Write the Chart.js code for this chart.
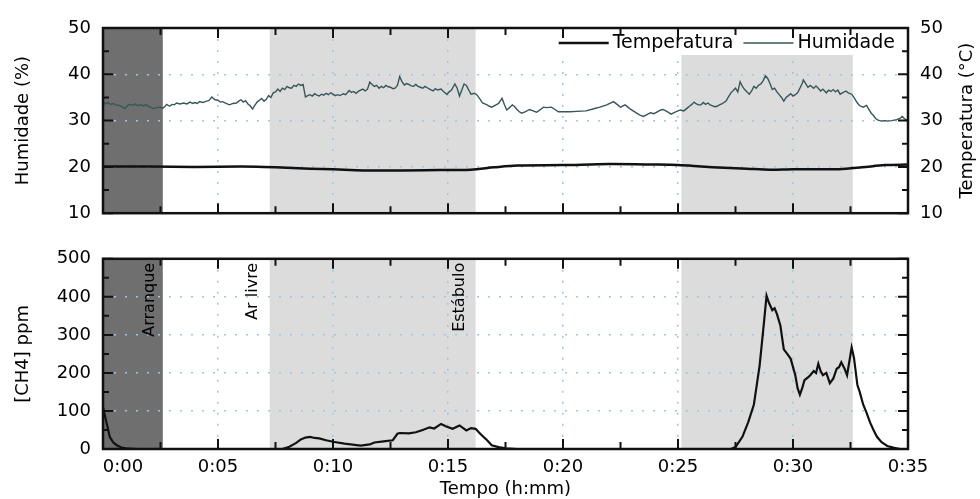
<!DOCTYPE html>
<html>
<head>
<meta charset="utf-8">
<script src="https://cdn.jsdelivr.net/npm/chart.js@4"></script>
<style>
  body { margin: 0; background: #fff; }
  canvas { position: absolute; left: 0; }
  #topChart { top: 0; }
  #ch4Chart { top: 236px; }
</style>
</head>
<body>
<canvas id="topChart" width="980" height="236"></canvas>
<canvas id="ch4Chart" width="980" height="263"></canvas>
<script>
// tempos em minutos desde o arranque
const humTime = [0, 0.1, 0.2, 0.35, 0.43, 0.55, 0.7, 0.85, 0.96, 1.05,
  1.15, 1.3, 1.4, 1.5, 1.62, 1.75, 1.9, 2.0, 2.1, 2.2,
  2.35, 2.48, 2.6, 2.7, 2.77, 2.9, 3.0, 3.1, 3.2, 3.35,
  3.5, 3.65, 3.78, 3.9, 4.0, 4.1, 4.2, 4.35, 4.5, 4.6,
  4.73, 4.87, 5.0, 5.1, 5.2, 5.35, 5.5, 5.65, 5.8, 5.9,
  6.0, 6.1, 6.2, 6.3, 6.4, 6.5, 6.6, 6.7, 6.8, 6.9,
  7.0, 7.1, 7.2, 7.3, 7.4, 7.5, 7.6, 7.7, 7.8, 7.9,
  8.0, 8.1, 8.2, 8.3, 8.4, 8.5, 8.6, 8.7, 8.8, 8.9,
  9.0, 9.1, 9.2, 9.3, 9.4, 9.5, 9.6, 9.7, 9.8, 9.9,
  10.0, 10.1, 10.2, 10.3, 10.45, 10.55, 10.7, 10.8, 10.9, 11.0,
  11.1, 11.2, 11.3, 11.4, 11.5, 11.6, 11.7, 11.8, 11.9, 12.0,
  12.1, 12.2, 12.3, 12.4, 12.5, 12.6, 12.7, 12.8, 12.9, 13.0,
  13.1, 13.2, 13.3, 13.4, 13.5, 13.6, 13.7, 13.8, 13.9, 14.0,
  14.1, 14.2, 14.35, 14.45, 14.55, 14.7, 14.8, 14.95, 15.05, 15.15,
  15.3, 15.4, 15.5, 15.6, 15.7, 15.8, 15.9, 16.0, 16.15, 16.25,
  16.4, 16.5, 16.6, 16.7, 16.8, 16.9, 17.05, 17.2, 17.35, 17.45,
  17.55, 17.65, 17.8, 17.9, 18.0, 18.1, 18.2, 18.35, 18.55, 18.7,
  18.85, 19.0, 19.15, 19.3, 19.5, 19.65, 19.8, 20.0, 20.3, 20.6,
  21.0, 21.3, 21.6, 21.9, 22.2, 22.35, 22.5, 22.7, 22.9, 23.05,
  23.2, 23.35, 23.5, 23.65, 23.8, 23.95, 24.1, 24.25, 24.35, 24.55,
  24.7, 24.85, 25.0, 25.1, 25.25, 25.4, 25.5, 25.6, 25.7, 25.8,
  25.9, 26.0, 26.1, 26.2, 26.3, 26.4, 26.5, 26.6, 26.7, 26.8,
  26.9, 27.0, 27.1, 27.2, 27.3, 27.4, 27.5, 27.6, 27.7, 27.8,
  27.9, 28.0, 28.1, 28.2, 28.3, 28.4, 28.5, 28.6, 28.7, 28.8,
  28.9, 29.0, 29.1, 29.2, 29.3, 29.4, 29.5, 29.6, 29.7, 29.8,
  29.9, 30.0, 30.1, 30.2, 30.3, 30.4, 30.45, 30.55, 30.65, 30.75,
  30.9, 31.0, 31.1, 31.2, 31.3, 31.45, 31.55, 31.65, 31.75, 31.85,
  31.95, 32.05, 32.15, 32.3, 32.4, 32.55, 32.65, 32.8, 32.9, 33.05,
  33.2, 33.3, 33.4, 33.5, 33.6, 33.7, 33.85, 34.0, 34.1, 34.3,
  34.5, 34.65, 34.75, 34.85, 35.0];
const humidade = [34.0, 33.6, 33.9, 33.5, 33.7, 33.4, 33.3, 32.9, 32.6, 33.2,
  33.5, 33.3, 33.6, 33.2, 33.4, 33.2, 33.4, 33.0, 32.8, 32.6,
  32.8, 32.9, 32.7, 33.1, 33.5, 33.1, 33.5, 33.4, 33.8, 33.6,
  33.8, 33.6, 34.0, 33.7, 33.9, 33.7, 34.1, 33.9, 34.2, 34.3,
  35.1, 34.5, 34.4, 34.0, 34.1, 33.7, 33.4, 33.7, 33.8, 34.2,
  34.5, 34.0, 34.3, 33.6, 33.2, 32.5, 33.3, 34.0, 34.4, 34.8,
  34.2, 34.6, 35.4, 35.0, 36.0, 36.2, 36.8, 36.3, 37.0, 36.7,
  37.4, 37.1, 37.0, 37.6, 37.4, 37.9, 37.6, 37.8, 35.1, 35.4,
  35.6, 35.3, 35.8, 35.5, 35.3, 35.7, 35.5, 35.9, 35.6, 36.0,
  35.7, 35.4, 35.6, 35.4, 35.8, 35.6, 36.5, 36.1, 36.3, 35.9,
  36.3, 36.6, 36.8, 36.4, 36.8, 38.3, 37.8, 37.4, 37.6, 37.0,
  37.4, 37.1, 37.6, 37.3, 37.2, 36.9, 37.0, 37.6, 39.5, 38.4,
  37.7, 38.0, 37.8, 37.5, 37.4, 37.8, 37.4, 37.2, 37.0, 37.4,
  37.1, 36.8, 36.4, 36.9, 36.6, 36.8, 36.3, 35.7, 36.2, 36.6,
  37.9, 37.0, 35.3, 36.6, 37.9, 37.6, 36.6, 35.7, 35.9, 35.6,
  34.6, 33.8, 33.6, 33.4, 33.1, 32.9, 33.3, 33.7, 34.8, 33.5,
  32.3, 32.7, 33.4, 33.0, 32.4, 31.9, 31.6, 31.9, 32.4, 32.1,
  31.8, 32.3, 32.9, 32.8, 32.9, 32.4, 31.9, 31.9, 31.9, 32.0,
  32.1, 32.5, 32.9, 33.4, 34.1, 33.5, 32.9, 33.4, 32.6, 32.1,
  31.6, 31.2, 30.9, 31.3, 31.7, 31.5, 31.9, 32.3, 32.4, 31.9,
  31.4, 31.8, 32.1, 32.3, 32.1, 32.7, 33.1, 33.5, 34.0, 33.6,
  33.4, 33.4, 33.9, 33.5, 33.8, 33.4, 33.2, 33.0, 33.1, 33.4,
  33.6, 33.9, 34.3, 35.2, 36.0, 36.5, 37.0, 36.2, 38.4, 37.4,
  36.7, 36.2, 35.7, 36.4, 37.4, 37.0, 37.6, 37.9, 38.6, 39.7,
  39.1, 38.0, 36.7, 37.0, 36.2, 35.6, 35.0, 34.2, 35.0, 35.4,
  35.8, 35.3, 35.6, 36.0, 37.0, 38.0, 38.8, 38.0, 37.2, 37.6,
  37.0, 37.5, 37.0, 36.4, 36.8, 36.0, 36.6, 36.3, 36.7, 36.2,
  36.6, 35.7, 36.0, 36.4, 36.0, 35.7, 35.0, 33.8, 33.2, 32.9,
  33.3, 32.4, 31.6, 31.1, 30.4, 30.1, 29.9, 30.0, 29.9, 30.0,
  30.2, 30.5, 30.9, 30.4, 30.0];

const tempTime = [0, 2, 4, 6, 7, 8, 9, 10, 11, 12, 14, 16, 17, 18, 20, 22, 24, 25, 26, 27, 28, 29, 30, 32, 33, 34, 35];
const temperatura = [20.1, 20.1, 20.0, 20.1, 20.0, 19.8, 19.6, 19.5, 19.3, 19.2, 19.3, 19.4, 19.9, 20.3, 20.4, 20.6, 20.5, 20.4, 20.1, 19.8,
  19.6, 19.4, 19.5, 19.5, 19.9, 20.4, 20.5];

const ch4Time = [0, 0.15, 0.3, 0.45, 0.6, 0.8, 1.0, 1.5, 7.8, 8.1, 8.4, 8.6, 8.8, 9.0, 9.2, 9.4, 9.7, 10.0, 10.5, 11.2,
  11.6, 11.8, 12.2, 12.6, 12.8, 12.9, 13.3, 13.6, 13.9, 14.2, 14.4, 14.7, 14.9, 15.2, 15.5, 15.8, 16.0, 16.2, 16.4, 16.7,
  16.9, 17.2, 17.5, 18, 27.3, 27.5, 27.8, 28.05, 28.3, 28.55, 28.75, 28.85, 28.95, 29.1, 29.2, 29.3, 29.45, 29.6, 29.75, 29.9,
  30.1, 30.2, 30.3, 30.4, 30.5, 30.65, 30.75, 30.9, 31.0, 31.1, 31.2, 31.3, 31.45, 31.6, 31.75, 31.9, 32.0, 32.1, 32.25, 32.35,
  32.45, 32.55, 32.65, 32.8, 32.9, 33.05, 33.2, 33.35, 33.5, 33.65, 33.85, 34.1, 34.4, 34.65, 35];
const ch4 = [110, 70, 31, 17, 10, 4, 2, 0, 0, 6, 16, 25, 30, 32, 29, 28, 23, 19, 14, 9,
  12, 17, 20, 23, 40, 42, 41, 44, 50, 57, 54, 66, 60, 53, 62, 49, 55, 53, 40, 23,
  10, 5, 2, 0, 0, 5, 32, 70, 117, 220, 340, 403, 385, 365, 370, 355, 325, 262, 250, 237,
  194, 160, 143, 160, 181, 188, 194, 205, 200, 224, 205, 194, 200, 173, 185, 211, 215, 228, 210, 194,
  230, 267, 240, 168, 150, 117, 95, 70, 50, 32, 18, 8, 3, 0, 0];

// fases do ensaio (minutos)
const phaseStart = [0, 7.25, 25.15];
const phaseEnd = [2.6, 16.2, 32.6];
const phaseColor = ['#6f6f6f', '#dcdcdc', '#dcdcdc'];
const phaseLabels = ['Arranque', 'Ar livre', 'Estábulo'];
const phaseLabelAt = [2.05, 6.5, 15.5];

Chart.defaults.font.family = 'DejaVu Sans';
Chart.defaults.font.size = 18;
Chart.defaults.color = '#000';

const xy = (xs, ys) => xs.map((x, i) => ({x: x, y: ys[i]}));

// grelha pontilhada azul, sem linhas sobre a moldura
const dotGrid = {
  color: c => (c.tick && (c.tick.value === c.scale.min || c.tick.value === c.scale.max)) ? 'rgba(0,0,0,0)' : '#9cc7e4',
  lineWidth: 1.5,
  drawTicks: false
};
const dotBorder = {display: false, dash: [2, 9]};

const phaseBands = {
  id: 'phaseBands',
  beforeDraw(chart) {
    const {ctx, chartArea: a, scales: {x}} = chart;
    ctx.save();
    phaseStart.forEach((s, i) => {
      const x0 = x.getPixelForValue(s);
      const x1 = x.getPixelForValue(phaseEnd[i]);
      ctx.fillStyle = phaseColor[i];
      ctx.fillRect(x0, a.top, x1 - x0, a.bottom - a.top);
    });
    ctx.restore();
  }
};

// moldura com marcas para dentro
const frame = {
  id: 'frame',
  afterDraw(chart) {
    const {ctx, chartArea: a, scales: {x, y}} = chart;
    ctx.save();
    ctx.strokeStyle = '#111';
    ctx.lineWidth = 2;
    ctx.beginPath();
    x.ticks.forEach((t, i) => {
      const marks = [[t.value, 10]];
      if (i < x.ticks.length - 1) marks.push([(t.value + x.ticks[i + 1].value) / 2, 7]);
      marks.forEach(([v, len]) => {
        const px = x.getPixelForValue(v);
        ctx.moveTo(px, a.top); ctx.lineTo(px, a.top + len);
        ctx.moveTo(px, a.bottom); ctx.lineTo(px, a.bottom - len);
      });
    });
    y.ticks.forEach((t, i) => {
      const marks = [[t.value, 10]];
      if (i < y.ticks.length - 1) marks.push([(t.value + y.ticks[i + 1].value) / 2, 6]);
      marks.forEach(([v, len]) => {
        const py = y.getPixelForValue(v);
        ctx.moveTo(a.left, py); ctx.lineTo(a.left + len, py);
        ctx.moveTo(a.right, py); ctx.lineTo(a.right - len, py);
      });
    });
    ctx.stroke();
    ctx.lineWidth = 2.5;
    ctx.strokeRect(a.left, a.top, a.right - a.left, a.bottom - a.top);
    ctx.restore();
  }
};

// legenda dentro do gráfico, canto superior direito
const insetLegend = {
  id: 'insetLegend',
  afterDatasetsDraw(chart) {
    const {ctx, chartArea: a} = chart;
    const sets = chart.data.datasets;
    const cy = a.top + 15;
    ctx.save();
    ctx.font = '19px "DejaVu Sans"';
    let x = a.right - 13;
    const items = [];
    for (let i = sets.length - 1; i >= 0; i--) {
      const w = ctx.measureText(sets[i].label).width;
      const tx = x - w;
      const l1 = tx - 4, l0 = l1 - 50;
      items.push({ds: sets[i], tx, l0, l1});
      x = l0 - 10;
    }
    ctx.fillStyle = '#fff';
    ctx.fillRect(x + 4, a.top, a.right - x - 4, 27);
    items.forEach(it => {
      ctx.strokeStyle = it.ds.borderColor;
      ctx.lineWidth = it.ds.borderWidth;
      ctx.beginPath();
      ctx.moveTo(it.l0, cy); ctx.lineTo(it.l1, cy);
      ctx.stroke();
      ctx.fillStyle = '#000';
      ctx.textBaseline = 'middle';
      ctx.fillText(it.ds.label, it.tx, cy);
    });
    ctx.restore();
  }
};

// título do eixo direito, lido de baixo para cima
const rightTitle = {
  id: 'rightTitle',
  afterDraw(chart) {
    const s = chart.scales.y1;
    const {ctx, chartArea: a} = chart;
    ctx.save();
    ctx.translate(s.right - 13, (a.top + a.bottom) / 2);
    ctx.rotate(-Math.PI / 2);
    ctx.font = '18px "DejaVu Sans"';
    ctx.fillStyle = '#000';
    ctx.textAlign = 'center';
    ctx.textBaseline = 'middle';
    ctx.fillText(s.options.title.text, 0, 0);
    ctx.restore();
  }
};

const phaseText = {
  id: 'phaseText',
  afterDatasetsDraw(chart) {
    const {ctx, chartArea: a, scales: {x}} = chart;
    ctx.save();
    ctx.font = '16px "DejaVu Sans"';
    ctx.fillStyle = '#000';
    ctx.textAlign = 'right';
    ctx.textBaseline = 'middle';
    phaseLabels.forEach((txt, i) => {
      ctx.save();
      ctx.translate(x.getPixelForValue(phaseLabelAt[i]), a.top + 4);
      ctx.rotate(-Math.PI / 2);
      ctx.fillText(txt, 0, 0);
      ctx.restore();
    });
    ctx.restore();
  }
};

new Chart(document.getElementById('topChart'), {
  type: 'line',
  data: {
    datasets: [{
      label: 'Temperatura',
      data: xy(tempTime, temperatura),
      yAxisID: 'y1',
      borderColor: '#111',
      borderWidth: 2.5,
      pointRadius: 0,
      tension: 0.3
    }, {
      label: 'Humidade',
      data: xy(humTime, humidade),
      yAxisID: 'y',
      borderColor: '#35575a',
      borderWidth: 1.4,
      pointRadius: 0,
      tension: 0
    }]
  },
  options: {
    responsive: false,
    animation: false,
    devicePixelRatio: 1,
    layout: {padding: {top: 28, left: 0, right: 0, bottom: 0}},
    plugins: {legend: {display: false}, tooltip: {enabled: false}},
    scales: {
      x: {
        type: 'linear', min: 0, max: 35,
        ticks: {display: false, stepSize: 5},
        grid: dotGrid, border: dotBorder,
        afterFit: s => { s.height = 12; }
      },
      y: {
        position: 'left', min: 10, max: 50,
        ticks: {stepSize: 10, padding: 12},
        grid: dotGrid, border: dotBorder,
        title: {display: true, text: 'Humidade (%)', padding: {top: 13, bottom: 0}},
        afterFit: s => { s.width = 103; }
      },
      y1: {
        position: 'right', min: 10, max: 50,
        ticks: {stepSize: 10, padding: 12},
        grid: {display: false, drawTicks: false}, border: {display: false},
        title: {display: false, text: 'Temperatura (°C)'},
        afterFit: s => { s.width = 72; }
      }
    }
  },
  plugins: [phaseBands, insetLegend, frame, rightTitle]
});

new Chart(document.getElementById('ch4Chart'), {
  type: 'line',
  data: {
    datasets: [{
      label: '[CH4]',
      data: xy(ch4Time, ch4),
      borderColor: '#111',
      borderWidth: 2.2,
      pointRadius: 0,
      tension: 0
    }]
  },
  options: {
    responsive: false,
    animation: false,
    devicePixelRatio: 1,
    layout: {padding: {top: 18, left: 0, right: 72, bottom: 0}},
    plugins: {legend: {display: false}, tooltip: {enabled: false}},
    scales: {
      x: {
        type: 'linear', min: 0, max: 35,
        ticks: {
          stepSize: 5, padding: 8, maxRotation: 0,
          callback: v => (v === 0 ? '       ' : '') + '0:' + String(v).padStart(2, '0')
        },
        grid: dotGrid, border: dotBorder,
        title: {display: true, text: 'Tempo (h:mm)', font: {lineHeight: 1}, padding: {top: 0, bottom: 1}},
        afterFit: s => { s.height = 50; }
      },
      y: {
        position: 'left', min: 0, max: 500,
        ticks: {stepSize: 100, padding: 12},
        grid: dotGrid, border: dotBorder,
        title: {display: true, text: '[CH4] ppm', padding: {top: 13, bottom: 0}},
        afterFit: s => { s.width = 103; }
      }
    }
  },
  plugins: [phaseBands, phaseText, frame]
});
</script>
</body>
</html>
